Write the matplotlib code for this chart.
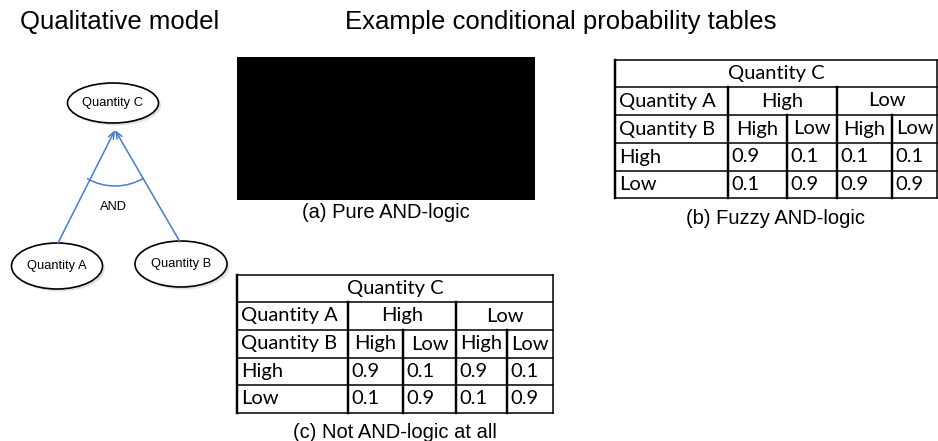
import matplotlib
matplotlib.use('Agg')
import matplotlib.pyplot as plt
from matplotlib.patches import Ellipse, Arc

# data
nodes = ['Quantity A', 'Quantity B', 'Quantity C']
states = ['High', 'Low']
cpt_fuzzy = [['0.9', '0.1', '0.1', '0.1'],
             ['0.1', '0.9', '0.9', '0.9']]
cpt_not_and = [['0.9', '0.1', '0.9', '0.1'],
               ['0.1', '0.9', '0.1', '0.9']]
captions = ['(a) Pure AND-logic', '(b) Fuzzy AND-logic', '(c) Not AND-logic at all']

blue = '#4a7bc8'
sans = 'Liberation Sans'
tfont = 'Lato'

fig = plt.figure(figsize=(9.38, 4.41), dpi=100)
ax = fig.add_axes([0, 0, 1, 1])
ax.set_xlim(0, 938)
ax.set_ylim(441, 0)
ax.axis('off')

# titles
ax.text(120, 22, 'Qualitative model', ha='center', va='center', fontsize=18.5, family=sans)
ax.text(561, 22, 'Example conditional probability tables', ha='center', va='center', fontsize=18.5, family=sans)

# qualitative model
pos = {'Quantity A': (57, 266), 'Quantity B': (181, 264), 'Quantity C': (113, 103)}
size = {'Quantity A': (91, 46), 'Quantity B': (92, 46), 'Quantity C': (91, 40)}
apex = (115, 130)
for n in nodes:
    x, y = pos[n]
    w, h = size[n]
    ax.add_patch(Ellipse((x + 2.5, y + 2.5), w, h, facecolor='#d0d0d0', edgecolor='none', alpha=0.6))
    ax.add_patch(Ellipse((x, y), w, h, facecolor='white', edgecolor='black', lw=1.2))
    ax.text(x, y, n, ha='center', va='center', fontsize=9.3, family=sans)

for n, top in [('Quantity A', (58, 243)), ('Quantity B', (180, 242))]:
    ax.annotate('', xy=apex, xytext=top,
                arrowprops=dict(arrowstyle='->,head_length=0.5,head_width=0.2', color=blue, lw=1.1,
                                shrinkA=0, shrinkB=0))
ax.add_patch(Arc(apex, 112, 112, theta1=59, theta2=120, color=blue, lw=1.1))
ax.text(113, 207, 'AND', ha='center', va='center', fontsize=9.3, family=sans)

# (a) pure AND-logic (black image)
ax.add_patch(plt.Rectangle((237, 57), 298, 143, facecolor='black', edgecolor='none'))
ax.text(386, 213, captions[0], ha='center', va='center', fontsize=14.5, family=sans)


def draw_table(cols, rows, vals, caption):
    x0, x1 = cols[0], cols[-1]
    y0, y1 = rows[0], rows[-1]
    lw = 1.1
    for y in rows:
        ax.plot([x0, x1], [y, y], color='black', lw=lw, solid_capstyle='projecting')
    ax.plot([x0, x0], [y0, y1], color='black', lw=lw * 1.6)
    ax.plot([x1, x1], [y0, y1], color='black', lw=lw)
    ax.plot([cols[1], cols[1]], [rows[1], y1], color='black', lw=lw * 1.6)
    ax.plot([cols[3], cols[3]], [rows[1], y1], color='black', lw=lw * 1.6)
    ax.plot([cols[2], cols[2]], [rows[2], y1], color='black', lw=lw * 1.6)
    ax.plot([cols[4], cols[4]], [rows[2], y1], color='black', lw=lw * 1.6)
    cy = [(rows[i] + rows[i + 1]) / 2 for i in range(5)]
    fs = 14.5
    ax.text((x0 + x1) / 2, cy[0], nodes[2], ha='center', va='center', fontsize=fs, family=tfont)
    ax.text(x0 + 4, cy[1], nodes[0], ha='left', va='center', fontsize=fs, family=tfont)
    ax.text((cols[1] + cols[3]) / 2, cy[1], states[0], ha='center', va='center', fontsize=fs, family=tfont)
    ax.text((cols[3] + cols[5]) / 2, cy[1], states[1], ha='center', va='center', fontsize=fs, family=tfont)
    ax.text(x0 + 4, cy[2], nodes[1], ha='left', va='center', fontsize=fs, family=tfont)
    for j in range(4):
        ax.text((cols[j + 1] + cols[j + 2]) / 2, cy[2], states[j % 2], ha='center', va='center',
                fontsize=fs, family=tfont)
    for i in range(2):
        ax.text(x0 + 4, cy[3 + i], states[i], ha='left', va='center', fontsize=fs, family=tfont)
        for j in range(4):
            ax.text(cols[j + 1] + 3, cy[3 + i], vals[i][j], ha='left', va='center', fontsize=fs, family=tfont)
    ax.text((x0 + x1) / 2, y1 + 20, caption, ha='center', va='center', fontsize=14.5, family=sans)


draw_table([615, 728, 787, 837, 892, 937], [60, 87, 115, 143, 171, 198], cpt_fuzzy, captions[1])
draw_table([237, 348, 403, 456, 507, 553], [275, 302, 330, 358, 385, 413], cpt_not_and, captions[2])

fig.savefig('out.png', dpi=100)
